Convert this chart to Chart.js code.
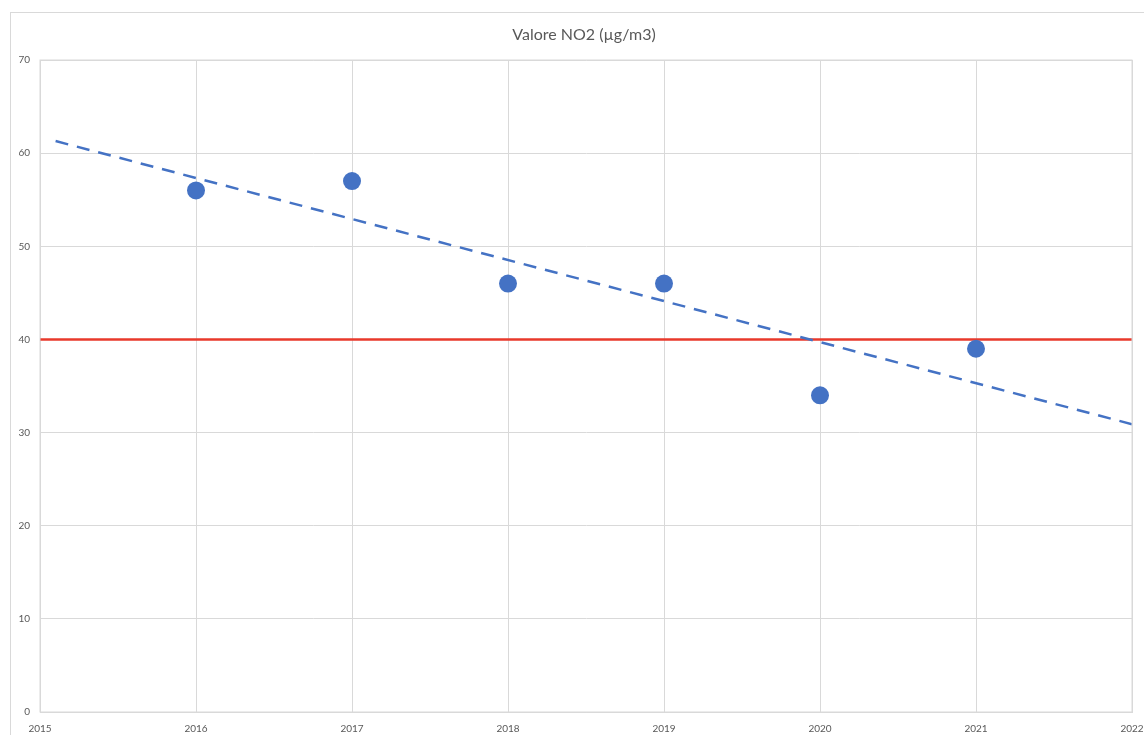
<!DOCTYPE html>
<html>
<head>
<meta charset="utf-8">
<script src="https://cdn.jsdelivr.net/npm/chart.js@4/dist/chart.umd.min.js"></script>
<style>
  html, body { margin: 0; padding: 0; background: #fff; overflow: hidden; }
  #frame { position: absolute; left: 10px; top: 12px; width: 1200px; height: 800px;
           border: 1px solid #d9d9d9; box-sizing: border-box; }
  #wrap { position: absolute; left: 0; top: 0; width: 1144px; height: 735px; }
</style>
</head>
<body>
<div id="frame"></div>
<div id="wrap"><canvas id="c" width="1144" height="735"></canvas></div>
<script>
// Annual NO2 measurements
const years = [2016, 2017, 2018, 2019, 2020, 2021];
const no2Values = [56, 57, 46, 46, 34, 39];

// Legal limit value
const limitValue = 40;
const limitRange = [2015, 2022];

// Linear trendline end points
const trendYears = [2015.1, 2022];
const trendValues = [61.3, 30.9];

const yTicks = [0, 10, 20, 30, 40, 50, 60, 70];
const xTicks = [2015, 2016, 2017, 2018, 2019, 2020, 2021, 2022];

const chartTitle = 'Valore NO2 (µg/m3)';

const FONT = 'Lato, "Open Sans", sans-serif';
const GREY = '#595959';
const BLUE = '#4472C4';

const pts = years.map((y, i) => ({ x: y, y: no2Values[i] }));
const trend = trendYears.map((y, i) => ({ x: y, y: trendValues[i] }));
const limit = limitRange.map(y => ({ x: y, y: limitValue }));

new Chart(document.getElementById('c'), {
  type: 'scatter',
  data: {
    datasets: [
      {
        label: 'NO2',
        data: pts,
        backgroundColor: BLUE,
        borderColor: BLUE,
        pointRadius: 9,
        pointHoverRadius: 9,
        borderWidth: 0,
        showLine: false,
        order: 0
      },
      {
        label: 'Tendenza',
        data: trend,
        showLine: true,
        borderColor: BLUE,
        borderWidth: 2.5,
        borderDash: [13, 9],
        pointRadius: 0,
        order: 1
      },
      {
        label: 'Limite',
        data: limit,
        showLine: true,
        borderColor: '#E8392B',
        borderWidth: 2.5,
        pointRadius: 0,
        order: 2
      }
    ]
  },
  options: {
    responsive: false,
    animation: false,
    layout: { padding: { left: 0, right: 12, top: 60, bottom: 0 } },
    plugins: {
      legend: { display: false },
      tooltip: { enabled: false },
      title: { display: false }
    },
    scales: {
      x: {
        type: 'linear',
        min: 2015,
        max: 2022,
        afterBuildTicks: s => { s.ticks = xTicks.map(v => ({ value: v })); },
        afterFit: s => { s.height = 23; s.paddingLeft = 0; s.paddingRight = 0; },
        ticks: {
          color: GREY,
          font: { family: FONT, size: 10 },
          padding: 11,
          maxRotation: 0,
          autoSkip: false,
          callback: v => String(v)
        },
        grid: { color: '#d9d9d9', lineWidth: 1, drawTicks: false, tickLength: 0 },
        border: { color: '#d9d9d9', width: 1 }
      },
      y: {
        min: 0,
        max: 70,
        afterBuildTicks: s => { s.ticks = yTicks.map(v => ({ value: v })); },
        afterFit: s => { s.width = 40; },
        ticks: {
          color: GREY,
          font: { family: FONT, size: 10 },
          padding: 10,
          callback: v => String(v)
        },
        grid: { color: '#d9d9d9', lineWidth: 1, drawTicks: false, tickLength: 0 },
        border: { color: '#d9d9d9', width: 1 }
      }
    }
  },
  plugins: [{
    id: 'plotFrameAndTitle',
    afterDraw(chart) {
      const a = chart.chartArea, ctx = chart.ctx;
      ctx.save();
      ctx.strokeStyle = '#d9d9d9';
      ctx.lineWidth = 1;
      ctx.strokeRect(a.left, a.top, a.right - a.left, a.bottom - a.top);
      // chart title, centred over the whole framed area
      ctx.fillStyle = GREY;
      ctx.font = '16px ' + FONT;
      ctx.textAlign = 'center';
      ctx.textBaseline = 'middle';
      ctx.fillText(chartTitle, 584, 35);
      ctx.restore();
    }
  }]
});
</script>
</body>
</html>
